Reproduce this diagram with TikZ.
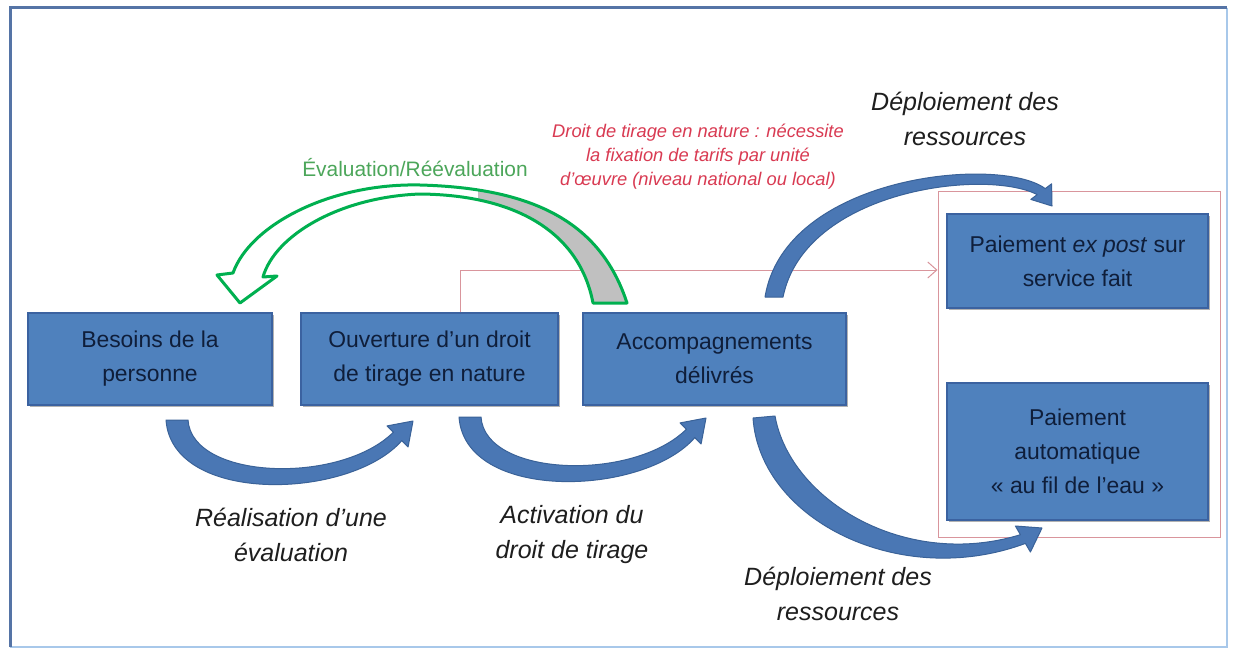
\documentclass[tikz,border=0pt]{standalone}
\usepackage{fontspec}
\setmainfont{Liberation Sans}
\usetikzlibrary{arrows.meta,shadows}

\definecolor{boxfill}{HTML}{4F81BD}
\definecolor{boxedge}{HTML}{3B62A0}
\definecolor{boxtext}{HTML}{0F1E3A}
\definecolor{arrowfill}{HTML}{4A77B4}
\definecolor{arrowedge}{HTML}{3A6298}
\definecolor{evalgreen}{HTML}{00B050}
\definecolor{evaltext}{HTML}{4CA65A}
\definecolor{notered}{HTML}{D93A52}
\definecolor{linkpink}{HTML}{D9959C}
\definecolor{framedark}{HTML}{5574A6}
\definecolor{framelight}{HTML}{A8C8EA}
\definecolor{bandgray}{HTML}{C0C0C0}
\definecolor{labeltext}{HTML}{1E1E1E}

% outline of the curved evaluation arrow (tail on the right, head on the left)
\newcommand\evalarrowpath{(627,303) .. controls (600,220) and (530,188) .. (420,185)
  .. controls (330,183) and (250,225) .. (233,273) -- (217,275) -- (240,303)
  -- (277,276) -- (263,277) .. controls (275,235) and (340,197) .. (420,194)
  .. controls (520,195) and (580,235) .. (593,303) -- cycle}

\begin{document}
\begin{tikzpicture}[x=1pt,y=-1pt,
  stagebox/.style={draw=boxedge, line width=1.5pt, fill=boxfill, text=boxtext,
    align=center, inner sep=0pt, font=\fontsize{22.9}{34}\selectfont,
    drop shadow={shadow xshift=1.5pt, shadow yshift=-1.5pt, opacity=.3, fill=black}},
  steplabel/.style={align=center, inner sep=0pt, text=labeltext,
    font=\fontsize{25}{35}\selectfont\itshape},
  curvedarrow/.style={fill=arrowfill, draw=arrowedge, line width=1pt, line join=round},
  grouprect/.style={draw=linkpink, line width=1pt, inner sep=0pt}
]
\useasboundingbox (0,0) rectangle (1234,650);
\fill[white] (0,0) rectangle (1234,650);

% outer frame
\draw[framelight, line width=2.5pt] (1227,8) -- (1227,647) -- (10,647);
\draw[framedark, line width=3pt] (10,647) -- (10,8) -- (1227,8);

% group of payment modes
\node[grouprect, minimum width=282, minimum height=346] (group) at (1079,364) {};

% stages
\node[stagebox, minimum width=244, minimum height=92] (besoins) at (150,359)
  {Besoins de la\\personne};
\node[stagebox, minimum width=257, minimum height=92] (ouverture) at (429.5,359)
  {Ouverture d'un droit\\de tirage en nature};
\node[stagebox, minimum width=263, minimum height=92] (accomp) at (714.5,359)
  {Accompagnements\\délivrés};
\node[stagebox, minimum width=261, minimum height=94] (expost) at (1077.5,261)
  {Paiement \textit{ex post} sur\\service fait};
\node[stagebox, minimum width=261, minimum height=137] (auto) at (1077.5,451.5)
  {Paiement\\automatique\\« au fil de l'eau »};

% link from the drawing right to the payment modes
\coordinate (linkturn) at (460,270);
\draw[linkpink, line width=1pt, -{Straight Barb[length=9pt,width=16pt]}]
  (ouverture.north -| linkturn) -- (linkturn) -- (linkturn -| group.west);

% evaluation / re-evaluation loop
\fill[white] \evalarrowpath;
\begin{scope}
  \clip (478,150) rectangle (700,320);
  \fill[bandgray] \evalarrowpath;
\end{scope}
\draw[evalgreen, line width=3pt, line join=round] \evalarrowpath;

% besoins -> ouverture
\draw[curvedarrow] (166,420) .. controls (172,505) and (350,500) .. (401.8,440.6)
  -- (408.1,446.9) -- (413,421) -- (387.1,425.9) -- (393.4,432.2)
  .. controls (340,485) and (192,480) .. (188,420) -- cycle;

% ouverture -> accompagnements
\begin{scope}[shift={(293,-3)}]
\draw[curvedarrow] (166,420) .. controls (172,505) and (350,500) .. (401.8,440.6)
  -- (408.1,446.9) -- (413,421) -- (387.1,425.9) -- (393.4,432.2)
  .. controls (340,485) and (192,480) .. (188,420) -- cycle;
\end{scope}

% accompagnements -> paiement automatique
\draw[curvedarrow] (753,418) .. controls (760,520) and (900,590) .. (1025.4,543.4)
  -- (1030.4,552) -- (1042,528) -- (1015.4,526) -- (1020.4,534.7)
  .. controls (905,570) and (790,500) .. (775,416) -- cycle;

% accompagnements -> paiement ex post
\draw[curvedarrow] (765,297) .. controls (785,175) and (1000,155) .. (1045.2,188.6)
  -- (1051.6,183.8) -- (1052,206) -- (1030.8,199.4) -- (1037.2,194.6)
  .. controls (985,168) and (805,190) .. (783,297) -- cycle;

% labels
\node[steplabel] (lblrealisation) at (291,535) {Réalisation d'une\\évaluation};
\node[steplabel] (lblactivation) at (572,535) {Activation du\\droit de tirage};
\node[steplabel] (lbldeploitop) at (965,119) {Déploiement des\\ressources};
\node[steplabel] (lbldeploibot) at (838,594) {Déploiement des\\ressources};
\node[inner sep=0pt, text=evaltext, font=\fontsize{20.9}{25}\selectfont]
  (lblreeval) at (415,168) {Évaluation/Réévaluation};
\node[align=center, inner sep=0pt, text=notered, font=\fontsize{18.3}{24}\selectfont\itshape]
  (lblnote) at (698,157)
  {Droit de tirage en nature : nécessite\\la fixation de tarifs par unité\\d'œuvre (niveau national ou local)};
\end{tikzpicture}
\end{document}
